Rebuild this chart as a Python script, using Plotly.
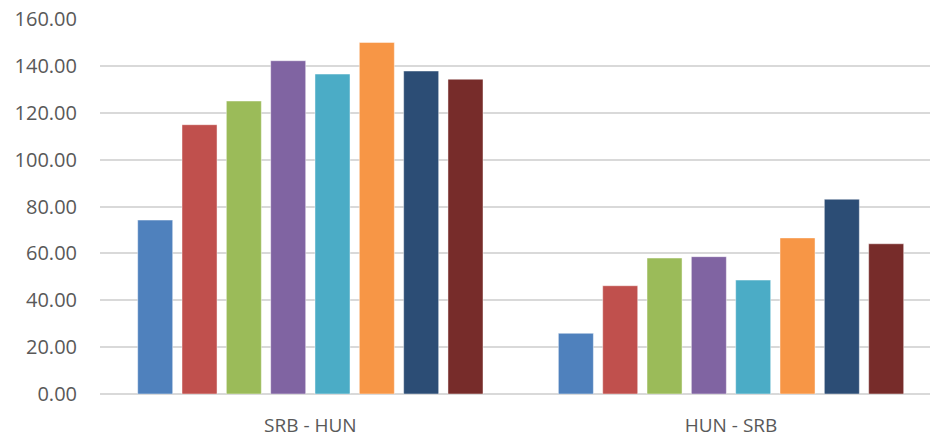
import plotly.graph_objects as go

# Routes on the category axis
categories = ["SRB - HUN", "HUN - SRB"]

# One series per bar colour, values per route
series_names = ["S1", "S2", "S3", "S4", "S5", "S6", "S7", "S8"]
series_values = [
    [74.2, 25.9],
    [114.9, 46.2],
    [125.0, 58.0],
    [142.2, 58.6],
    [136.5, 48.6],
    [150.0, 66.6],
    [137.8, 83.1],
    [134.3, 64.1],
]
series_colors = ["#4F81BD", "#C0504D", "#9BBB59", "#8064A2",
                 "#4BACC6", "#F79646", "#2C4D75", "#772C2A"]

y_ticks = [0, 20, 40, 60, 80, 100, 120, 140, 160]

fig = go.Figure()
for name, vals, col in zip(series_names, series_values, series_colors):
    fig.add_trace(go.Bar(
        x=categories, y=vals, name=name,
        marker=dict(color=col, line=dict(color="rgba(255,255,255,0.45)", width=1)),
        showlegend=False,
    ))

fig.update_layout(
    width=930, height=436,
    margin=dict(l=100, r=0, t=19, b=42),
    paper_bgcolor="white", plot_bgcolor="white",
    barmode="group", bargap=0.157, bargroupgap=0.21,
    font=dict(family="Open Sans", size=20, color="#595959"),
    xaxis=dict(
        type="category", range=[-0.5, 1.473], automargin=False,
        showgrid=False, zeroline=False, showline=False,
        ticks="", ticklabelstandoff=18,
        tickfont=dict(size=19, color="#595959"),
    ),
    yaxis=dict(
        range=[0, 160], tickvals=y_ticks, tickformat=".2f", automargin=False,
        showgrid=True, gridcolor="#D9D9D9", gridwidth=1.5,
        zeroline=True, zerolinecolor="#D9D9D9", zerolinewidth=1.5,
        showline=False, ticks="", ticklabelstandoff=22,
        tickfont=dict(size=20, color="#595959"),
    ),
)

fig.write_html("out.html")
